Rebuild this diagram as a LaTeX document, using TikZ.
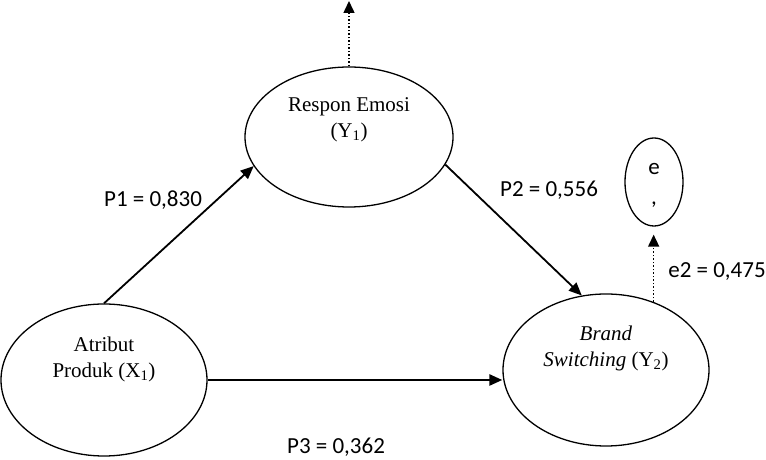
\documentclass[tikz,border=0pt]{standalone}
\usepackage{fontspec}
\setmainfont{Liberation Serif}
\newfontfamily\labfont{Carlito}
\usetikzlibrary{shapes.geometric,arrows.meta}
\begin{document}
\begin{tikzpicture}[x=1pt,y=1pt,
  var/.style={draw=black,line width=1.3pt,ellipse,inner sep=0pt},
  vartext/.style={align=center,font=\fontsize{21}{26}\selectfont},
  lab/.style={font=\labfont\fontsize{23}{26}\selectfont,inner sep=0pt},
  path/.style={line width=1.8pt,-{Triangle[length=13pt,width=11pt]}},
  errarrow/.style={line width=1.5pt,dotted,-{Triangle[length=12pt,width=11pt]}}
]
\useasboundingbox (0,0) rectangle (766,460);
\node[var,minimum width=208pt,minimum height=140pt] (resp) at (349,323) {};
\node[var,minimum width=206pt,minimum height=152pt] (atr) at (104,80) {};
\node[var,minimum width=206pt,minimum height=152pt] (brand) at (606,90) {};
\node[var,minimum width=58pt,minimum height=88pt] (e) at (654,278) {};
\node[vartext] (resptext) at (349,340) {Respon Emosi\\(Y\textsubscript{1})};
\node[vartext] (atrtext) at (104,101) {Atribut\\Produk (X\textsubscript{1})};
\node[vartext] (brandtext) at (606,112) {\textit{Brand}\\\textit{Switching} (Y\textsubscript{2})};
\node[align=center,font=\labfont\fontsize{23}{30}\selectfont] (etext) at (654,275) {e\\,};
\coordinate (topend) at (349,459);
\draw[path] (atr.north) -- (resp.197);
\draw[path] (resp.-16) -- (brand.108);
\draw[path,line width=2.6pt] (atr.east) -- (atr.east -| brand.west);
\draw[errarrow] (resp.north) -- (topend);
\draw[errarrow,shorten >=8pt] (brand.55) -- (brand.55 |- e.south);
\node[lab] (p1) at (153,260) {P1 = 0,830};
\node[lab] (p2) at (549,270) {P2 = 0,556};
\node[lab] (e2) at (717,188) {e2 = 0,475};
\node[lab] (p3) at (336,13) {P3 = 0,362};
\end{tikzpicture}
\end{document}
